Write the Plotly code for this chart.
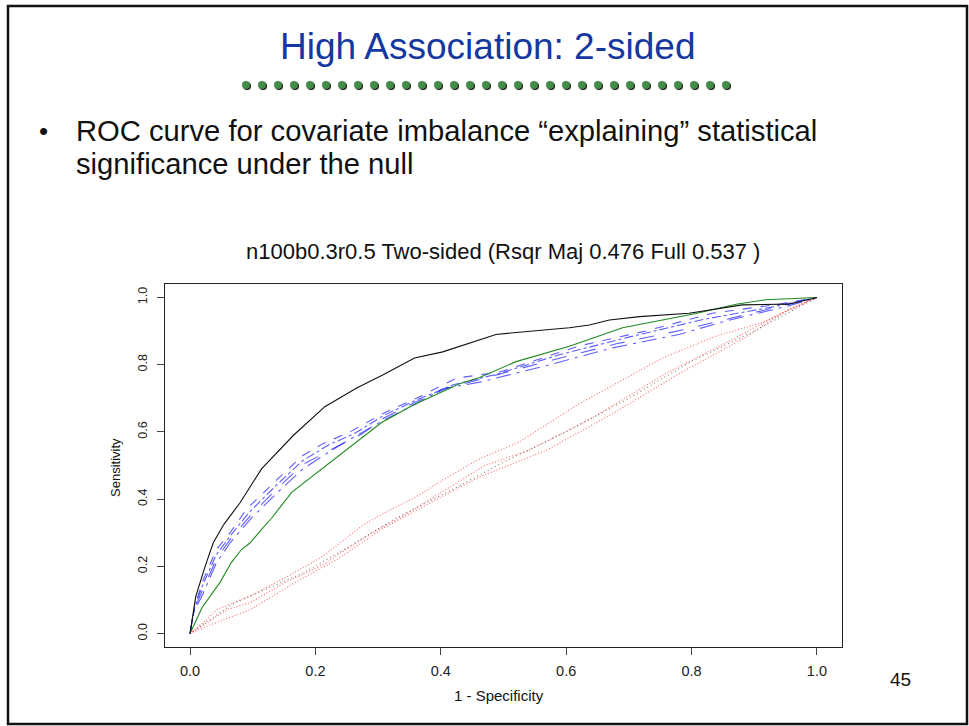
import plotly.graph_objects as go

# ---------------- data ----------------
black_x = [0, 0.009, 0.024, 0.037, 0.054, 0.080, 0.114, 0.165, 0.215, 0.265, 0.308, 0.358, 0.403, 0.451, 0.488,
           0.605, 0.637, 0.669, 0.717, 0.796, 0.881, 0.955, 0.995, 1.0]
black_y = [0, 0.110, 0.200, 0.270, 0.325, 0.390, 0.490, 0.590, 0.675, 0.730, 0.770, 0.820, 0.838, 0.867, 0.890,
           0.910, 0.918, 0.933, 0.943, 0.953, 0.978, 0.980, 0.998, 1.0]

green_x = [0, 0.019, 0.048, 0.066, 0.082, 0.096, 0.114, 0.130, 0.162, 0.218, 0.255, 0.305, 0.356, 0.398, 0.430,
           0.462, 0.520, 0.605, 0.690, 0.807, 0.871, 0.918, 1.0]
green_y = [0, 0.077, 0.153, 0.212, 0.250, 0.270, 0.310, 0.343, 0.420, 0.500, 0.555, 0.627, 0.680, 0.715, 0.743,
           0.762, 0.809, 0.855, 0.910, 0.952, 0.980, 0.993, 1.0]

blue1_x = [0, 0.008, 0.021, 0.042, 0.064, 0.090, 0.138, 0.180, 0.212, 0.255, 0.308, 0.361, 0.425, 0.494, 0.621, 0.727, 0.833, 0.939, 1.0]
blue1_y = [0, 0.086, 0.160, 0.250, 0.300, 0.370, 0.457, 0.530, 0.565, 0.600, 0.655, 0.700, 0.760, 0.778, 0.856, 0.900, 0.953, 0.980, 1.0]

blue2_x = [0, 0.007, 0.021, 0.042, 0.064, 0.093, 0.138, 0.180, 0.220, 0.265, 0.308, 0.361, 0.420, 0.490, 0.590, 0.700, 0.820, 0.930, 1.0]
blue2_y = [0, 0.078, 0.148, 0.235, 0.290, 0.358, 0.442, 0.515, 0.560, 0.598, 0.648, 0.695, 0.740, 0.772, 0.830, 0.882, 0.935, 0.972, 1.0]

blue3_x = [0, 0.006, 0.021, 0.042, 0.064, 0.096, 0.138, 0.180, 0.230, 0.275, 0.308, 0.361, 0.410, 0.480, 0.570, 0.680, 0.790, 0.900, 1.0]
blue3_y = [0, 0.070, 0.134, 0.222, 0.280, 0.350, 0.430, 0.503, 0.552, 0.595, 0.640, 0.690, 0.730, 0.765, 0.810, 0.862, 0.905, 0.955, 1.0]

blue4_x = [0, 0.005, 0.021, 0.042, 0.064, 0.096, 0.138, 0.180, 0.234, 0.308, 0.361, 0.403, 0.462, 0.568, 0.674, 0.780, 0.855, 0.955, 1.0]
blue4_y = [0, 0.060, 0.120, 0.210, 0.270, 0.340, 0.417, 0.490, 0.555, 0.634, 0.684, 0.728, 0.748, 0.797, 0.850, 0.890, 0.930, 0.975, 1.0]

red1_x = [0, 0.021, 0.042, 0.074, 0.101, 0.165, 0.212, 0.276, 0.318, 0.361, 0.403, 0.462, 0.525, 0.621, 0.754, 0.833, 0.913, 1.0]
red1_y = [0, 0.032, 0.071, 0.096, 0.116, 0.180, 0.230, 0.323, 0.367, 0.407, 0.457, 0.520, 0.570, 0.684, 0.820, 0.881, 0.926, 1.0]

red2_x = [0, 0.024, 0.060, 0.096, 0.150, 0.212, 0.290, 0.340, 0.400, 0.470, 0.540, 0.640, 0.760, 0.860, 0.940, 1.0]
red2_y = [0, 0.028, 0.072, 0.092, 0.150, 0.205, 0.300, 0.350, 0.420, 0.500, 0.545, 0.640, 0.775, 0.870, 0.950, 1.0]

red3_x = [0, 0.027, 0.096, 0.175, 0.234, 0.308, 0.387, 0.462, 0.494, 0.568, 0.674, 0.780, 0.886, 0.955, 1.0]
red3_y = [0, 0.022, 0.071, 0.160, 0.220, 0.313, 0.393, 0.466, 0.490, 0.545, 0.654, 0.773, 0.881, 0.965, 1.0]

blackdot_x = [0, 0.030, 0.070, 0.120, 0.180, 0.250, 0.330, 0.420, 0.500, 0.600, 0.700, 0.800, 0.900, 1.0]
blackdot_y = [0, 0.040, 0.090, 0.130, 0.180, 0.255, 0.345, 0.430, 0.510, 0.600, 0.700, 0.810, 0.900, 1.0]

x_ticks = [0.0, 0.2, 0.4, 0.6, 0.8, 1.0]
x_ticklabels = ["0.0", "0.2", "0.4", "0.6", "0.8", "1.0"]
y_ticks = [0.0, 0.2, 0.4, 0.6, 0.8, 1.0]
y_ticklabels = ["0.0", "0.2", "0.4", "0.6", "0.8", "1.0"]

# ---------------- figure ----------------
W, H = 969, 726
L, R, T, B = 165, W - 842, 284, H - 647
PW, PH = W - L - R, H - T - B
FONT = "Liberation Sans, Arial, Helvetica"


def px(x):
    return (x - L) / PW


def py(y):
    return (H - B - y) / PH


fig = go.Figure()

series = [
    (red1_x, red1_y, "rgba(255,70,70,0.8)", "1px,2px"),
    (red2_x, red2_y, "rgba(255,70,70,0.8)", "1px,2px"),
    (red3_x, red3_y, "rgba(255,70,70,0.8)", "1px,2px"),
    (blackdot_x, blackdot_y, "rgba(0,0,0,0.5)", "1px,3px"),
    (blue1_x, blue1_y, "rgba(40,40,255,0.75)", "dash"),
    (blue2_x, blue2_y, "rgba(40,40,255,0.75)", "dashdot"),
    (blue3_x, blue3_y, "rgba(40,40,255,0.75)", "longdash"),
    (blue4_x, blue4_y, "rgba(40,40,255,0.75)", "longdashdot"),
    (green_x, green_y, "#1f8a1f", "solid"),
    (black_x, black_y, "#111111", "solid"),
]
for xs, ys, col, dash in series:
    fig.add_trace(go.Scatter(x=xs, y=ys, mode="lines",
                             line=dict(color=col, width=1.1, dash=dash),
                             showlegend=False, hoverinfo="skip"))

axis_common = dict(showline=True, linecolor="#222", linewidth=1.2, mirror=True,
                   ticks="outside", ticklen=7, tickwidth=1, tickcolor="#444",
                   showgrid=False, zeroline=False)

fig.update_xaxes(range=[-0.04, 1.04], tickvals=x_ticks, ticktext=x_ticklabels,
                 ticklabelstandoff=3, tickfont=dict(family=FONT, size=14.5, color="#222"),
                 **axis_common)
fig.update_yaxes(range=[-0.04, 1.04], tickvals=y_ticks, ticktext=y_ticklabels,
                 tickangle=-90, ticklabelstandoff=5, tickfont=dict(family=FONT, size=12.5, color="#222"),
                 **axis_common)

ann = []
ann.append(dict(text="High Association: 2-sided", x=px(487), y=py(47), xref="paper", yref="paper",
                showarrow=False, xanchor="center", yanchor="middle",
                font=dict(family=FONT, size=37, color="#1438a0")))
ann.append(dict(text="•", x=px(43), y=py(131), xref="paper", yref="paper",
                showarrow=False, xanchor="center", yanchor="middle",
                font=dict(family=FONT, size=26, color="#111")))
ann.append(dict(text="ROC curve for covariate imbalance “explaining” statistical", x=px(74), y=py(131),
                xref="paper", yref="paper", showarrow=False, xanchor="left", yanchor="middle",
                font=dict(family=FONT, size=29.2, color="#111")))
ann.append(dict(text="significance under the null", x=px(74), y=py(164),
                xref="paper", yref="paper", showarrow=False, xanchor="left", yanchor="middle",
                font=dict(family=FONT, size=29.2, color="#111")))
ann.append(dict(text="n100b0.3r0.5 Two-sided (Rsqr Maj 0.476 Full 0.537 )", x=px(503), y=py(251),
                xref="paper", yref="paper", showarrow=False, xanchor="center", yanchor="middle",
                font=dict(family=FONT, size=22, color="#111")))
ann.append(dict(text="1 - Specificity", x=px(499), y=py(695),
                xref="paper", yref="paper", showarrow=False, xanchor="center", yanchor="middle",
                font=dict(family=FONT, size=15, color="#111")))
ann.append(dict(text="Sensitivity", x=px(115), y=py(468), textangle=-90,
                xref="paper", yref="paper", showarrow=False, xanchor="center", yanchor="middle",
                font=dict(family=FONT, size=13, color="#111")))
ann.append(dict(text="45", x=px(900), y=py(679),
                xref="paper", yref="paper", showarrow=False, xanchor="center", yanchor="middle",
                font=dict(family=FONT, size=19, color="#111")))

shapes = []
# slide border
shapes.append(dict(type="rect", xref="paper", yref="paper",
                   x0=px(8), x1=px(967), y0=py(6), y1=py(724),
                   line=dict(color="#111", width=2.5), fillcolor="rgba(0,0,0,0)", layer="below"))
# decorative dots under the title
n_dots = 31
for i in range(n_dots):
    cx = 246 + i * 16
    cy = 85
    shapes.append(dict(type="circle", xref="paper", yref="paper",
                       x0=px(cx - 3), x1=px(cx + 5), y0=py(cy - 3), y1=py(cy + 5),
                       line=dict(width=0), fillcolor="#1a1a1a", layer="below"))
    shapes.append(dict(type="circle", xref="paper", yref="paper",
                       x0=px(cx - 4), x1=px(cx + 4), y0=py(cy - 4), y1=py(cy + 4),
                       line=dict(width=0), fillcolor="#458a4a", layer="below"))

fig.update_layout(width=W, height=H, margin=dict(l=L, r=R, t=T, b=B, autoexpand=False),
                  paper_bgcolor="white", plot_bgcolor="white",
                  annotations=ann, shapes=shapes)

fig.write_html("out.html", config={"displayModeBar": False},
               post_script="document.body.style.margin='0px';document.body.style.overflow='hidden';")
